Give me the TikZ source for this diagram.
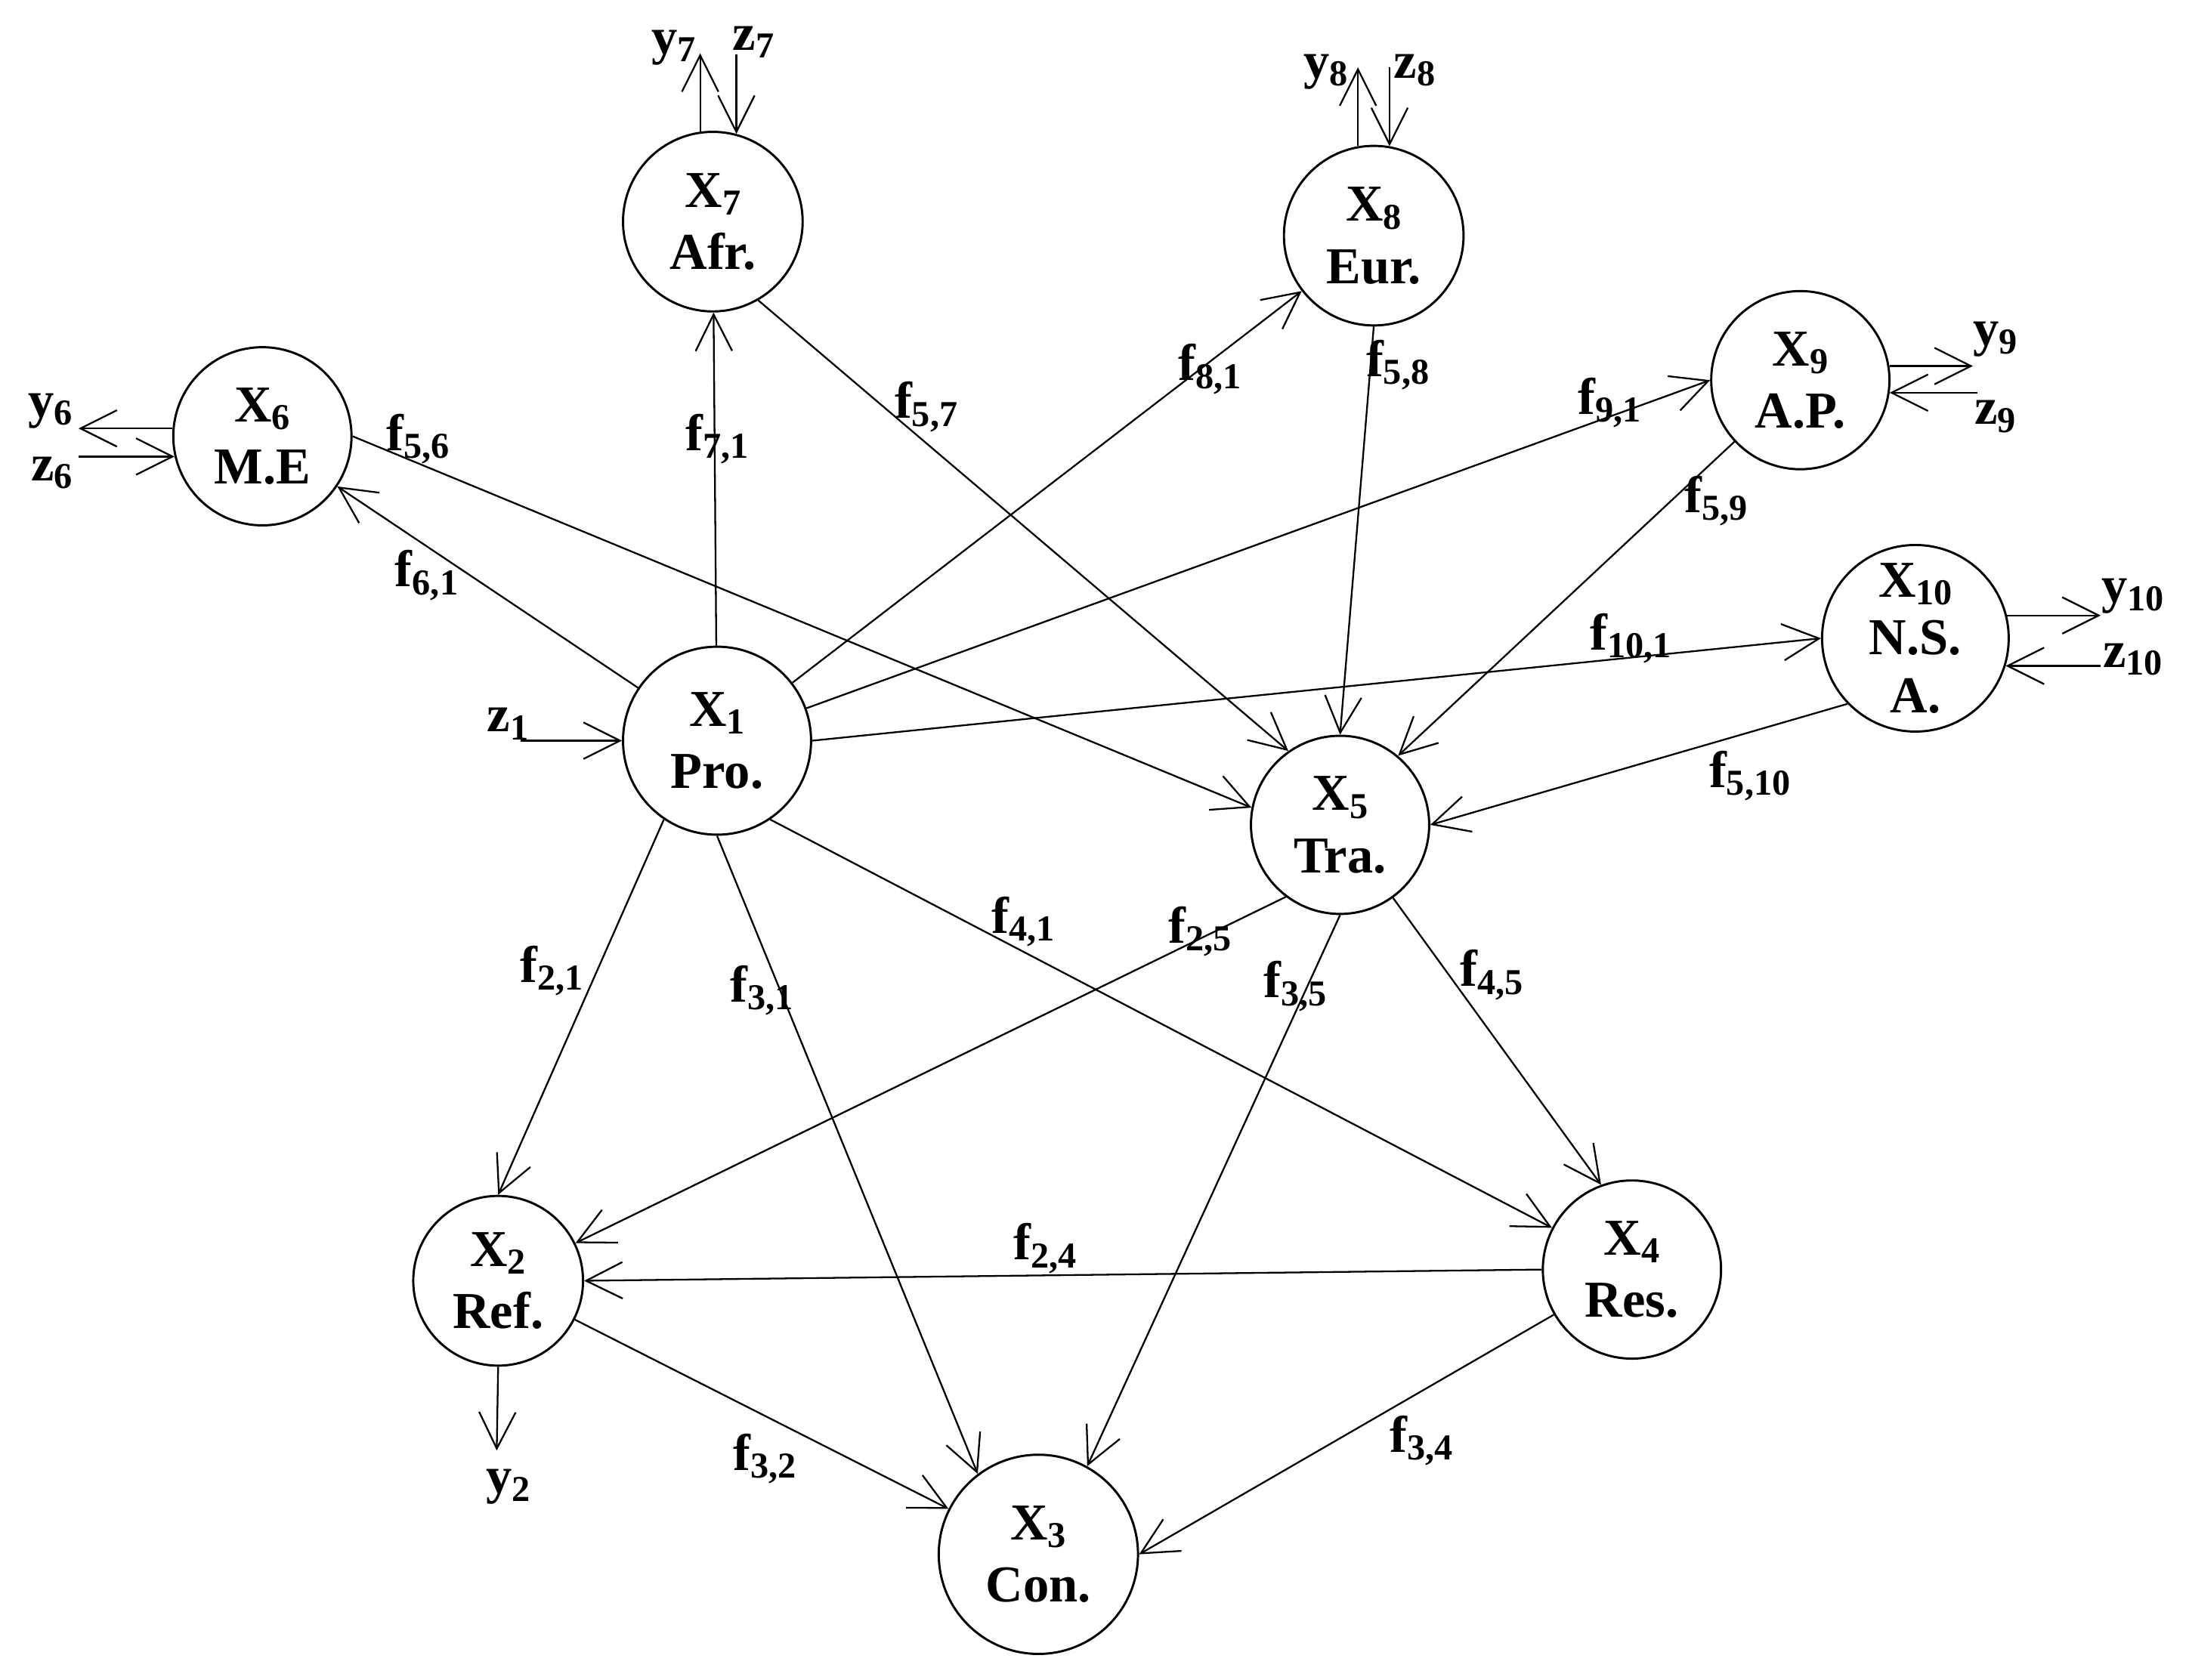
\documentclass[tikz,border=0pt]{standalone}
\usepackage{fontspec}
\setmainfont{Liberation Serif}
\usetikzlibrary{arrows.meta}
\newcommand{\lowidx}[1]{\raisebox{-1.6pt}{\fontsize{7.4pt}{8pt}\selectfont #1}}

\begin{document}
\begin{tikzpicture}[x=0.1mm, y=-0.1mm,
	sector/.style={circle, draw, line width=0.45pt, minimum size=#1, inner sep=0pt, align=center, font=\fontsize{10.5pt}{12.6pt}\selectfont\bfseries},
	sector/.default=12.7mm,
	flow/.style={line width=0.35pt, -{Straight Barb[length=2.6mm,width=2.6mm]}},
	tag/.style={inner sep=0pt, font=\fontsize{10.5pt}{12.6pt}\selectfont\bfseries}]
	\useasboundingbox (0,0) rectangle (1560,1197.6);

	\node[sector=13.4mm] (X1) at (511,528) {X\lowidx{1}\\Pro.};
	\node[sector=12.1mm] (X2) at (355,913) {X\lowidx{2}\\Ref.};
	\node[sector=14.2mm] (X3) at (740,1108) {X\lowidx{3}\\Con.};
	\node[sector] (X4) at (1163,905) {X\lowidx{4}\\Res.};
	\node[sector] (X5) at (955,588) {X\lowidx{5}\\Tra.};
	\node[sector] (X6) at (187,311) {X\lowidx{6}\\M.E};
	\node[sector=12.8mm] (X7) at (508,158) {X\lowidx{7}\\Afr.};
	\node[sector=12.8mm] (X8) at (979,168) {X\lowidx{8}\\Eur.};
	\node[sector] (X9) at (1283,271) {X\lowidx{9}\\A.P.};
	\node[sector=13.3mm, font=\fontsize{10.5pt}{11.7pt}\selectfont\bfseries] (X10) at (1365,455) {X\lowidx{10}\\N.S.\\A.};

	\draw[flow] (X1) -- (X6);
	\draw[flow] (X6.east) -- (X5.169);
	\draw[flow] (X1) -- (X7);
	\draw[flow] (X7.300) -- (X5.125);
	\draw[flow] (X1) -- (X8);
	\draw[flow] (X8.south) -- (X5.north);
	\draw[flow] (X1) -- (X9.west);
	\draw[flow] (X9) -- (X5.50);
	\draw[flow] (X1.east) -- (X10.west);
	\draw[flow] (X10.224) -- (X5.east);
	\draw[flow] (X1.236) -- (X2.north);
	\draw[flow] (X1.south) -- (X3.127);
	\draw[flow] (X1.304) -- (X4);
	\draw[flow] (X5.233) -- (X2);
	\draw[flow] (X5.south) -- (X3.61);
	\draw[flow] (X5) -- (X4.110);
	\draw[flow] (X4.west) -- (X2.east);
	\draw[flow] (X2) -- (X3);
	\draw[flow] (X4) -- (X3.east);

	\coordinate (y6e) at (56,306);
	\coordinate (z6s) at (56,325);
	\coordinate (y7e) at (499,38);
	\coordinate (z7s) at (524,39);
	\coordinate (y8e) at (968,48);
	\coordinate (z8s) at (990,48);
	\coordinate (y9e) at (1406,261);
	\coordinate (z9s) at (1409,280);
	\coordinate (y10e) at (1497,439);
	\coordinate (z10s) at (1497,474);
	\coordinate (z1s) at (371,528);
	\coordinate (y2e) at (354,1034);

	\draw[flow] (X6.175) -- (X6.175 -| y6e);
	\draw[flow] (X6.193 -| z6s) -- (X6.193);
	\draw[flow] (X7.98) -- (X7.98 |- y7e);
	\draw[flow] (X7.75 |- z7s) -- (X7.75);
	\draw[flow] (X8.100) -- (X8.100 |- y8e);
	\draw[flow] (X8.80 |- z8s) -- (X8.80);
	\draw[flow] (X9.9) -- (X9.9 -| y9e);
	\draw[flow] (X9.352 -| z9s) -- (X9.352);
	\draw[flow] (X10.14) -- (X10.14 -| y10e);
	\draw[flow] (X10.343 -| z10s) -- (X10.343);
	\draw[flow] (z1s) -- (X1.west);
	\draw[flow] (X2.south) -- (y2e);

	\node[tag] (f61) at (304,410) {f\lowidx{6,1}};
	\node[tag] (f56) at (298,313) {f\lowidx{5,6}};
	\node[tag] (f71) at (511,313) {f\lowidx{7,1}};
	\node[tag] (f57) at (660,290) {f\lowidx{5,7}};
	\node[tag] (f81) at (862,263) {f\lowidx{8,1}};
	\node[tag] (f58) at (996,260) {f\lowidx{5,8}};
	\node[tag] (f91) at (1147,287) {f\lowidx{9,1}};
	\node[tag] (f59) at (1223,357) {f\lowidx{5,9}};
	\node[tag] (f101) at (1162,455) {f\lowidx{10,1}};
	\node[tag] (f510) at (1247,553) {f\lowidx{5,10}};
	\node[tag] (f41) at (729,657) {f\lowidx{4,1}};
	\node[tag] (f25) at (855,664) {f\lowidx{2,5}};
	\node[tag] (f35) at (923,703) {f\lowidx{3,5}};
	\node[tag] (f45) at (1063,695) {f\lowidx{4,5}};
	\node[tag] (f21) at (393,692) {f\lowidx{2,1}};
	\node[tag] (f31) at (543,706) {f\lowidx{3,1}};
	\node[tag] (f24) at (745,890) {f\lowidx{2,4}};
	\node[tag] (f32) at (545,1040) {f\lowidx{3,2}};
	\node[tag] (f34) at (1013,1027) {f\lowidx{3,4}};

	\node[tag] (y6) at (36,293) {y\lowidx{6}};
	\node[tag] (z6) at (37,337) {z\lowidx{6}};
	\node[tag] (y7) at (480,34) {y\lowidx{7}};
	\node[tag] (z7) at (537,30) {z\lowidx{7}};
	\node[tag] (y8) at (945,51) {y\lowidx{8}};
	\node[tag] (z8) at (1008,50) {z\lowidx{8}};
	\node[tag] (y9) at (1422,242) {y\lowidx{9}};
	\node[tag] (z9) at (1422,297) {z\lowidx{9}};
	\node[tag] (y10) at (1520,425) {y\lowidx{10}};
	\node[tag] (z10) at (1520,470) {z\lowidx{10}};
	\node[tag] (z1) at (362,516) {z\lowidx{1}};
	\node[tag] (y2) at (362,1060) {y\lowidx{2}};
\end{tikzpicture}
\end{document}
